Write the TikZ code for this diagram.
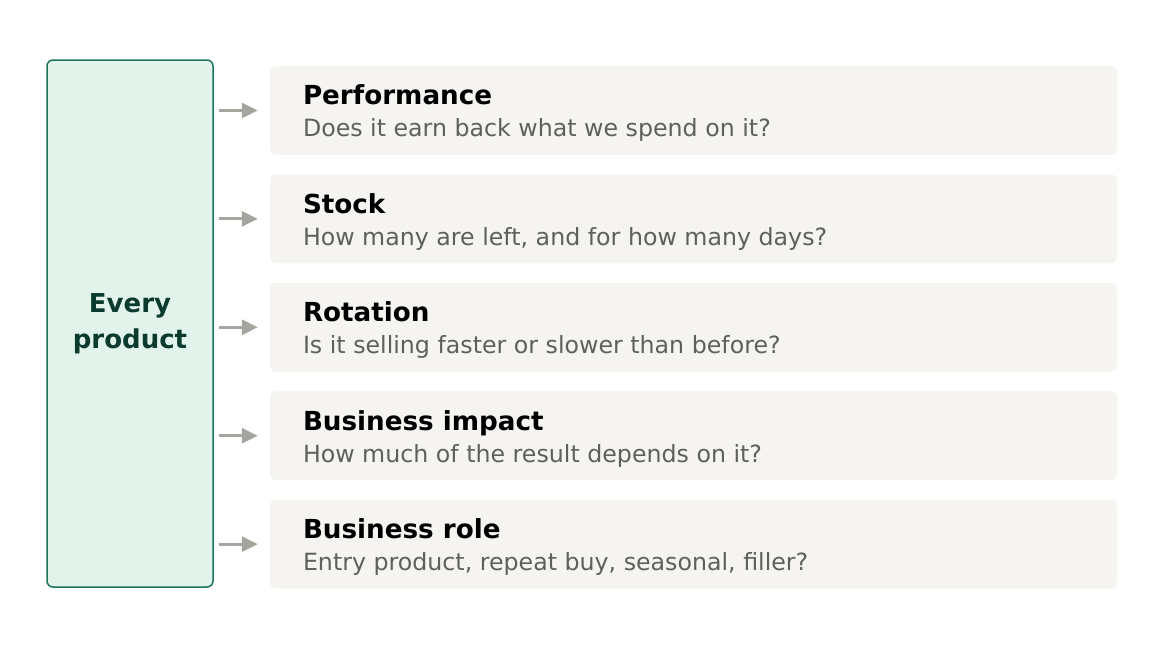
\documentclass[tikz,border=0pt]{standalone}
\usepackage{fontspec}
\setmainfont{DejaVu Sans}
\usetikzlibrary{positioning,arrows.meta}
\definecolor{boxfill}{HTML}{E2F3EC}
\definecolor{boxline}{HTML}{1C7556}
\definecolor{boxtext}{HTML}{0B3A2F}
\definecolor{cardfill}{HTML}{F5F4F0}
\definecolor{subgray}{HTML}{5F5F5F}
\definecolor{arrowgray}{HTML}{A5A5A0}

\begin{document}
\begin{tikzpicture}[x=1pt, y=-1pt,
    whole/.style={draw=boxline, fill=boxfill, line width=1.5pt, rounded corners=6pt,
      minimum width=166pt, minimum height=527pt, inner sep=0pt, align=center,
      text=boxtext, font=\bfseries\fontsize{26}{36}\selectfont},
    card/.style={fill=cardfill, rounded corners=6pt, minimum width=847pt,
      minimum height=89pt, inner sep=0pt},
    title/.style={anchor=base west, inner sep=0pt, font=\bfseries\fontsize{26.2}{30}\selectfont},
    question/.style={anchor=base west, inner sep=0pt, text=subgray, font=\fontsize{23.7}{28}\selectfont},
    link/.style={-{Triangle[length=16pt,width=15pt]}, draw=arrowgray, line width=3pt,
      shorten <=5pt, shorten >=12pt}]
    \useasboundingbox (0,0) rectangle (1164,648);
    \node[whole] (P) at (130,323.5) {Every\\product};
    \node[card] (C1) at (693.5,110.5) {};
    \node[card,below=19pt of C1] (C2) {};
    \node[card,below=19pt of C2] (C3) {};
    \node[card,below=19pt of C3] (C4) {};
    \node[card,below=19pt of C4] (C5) {};
    \node[title] (T1) at ([shift={(33,39)}]C1.north west) {Performance};
    \node[question] (Q1) at ([shift={(33,71)}]C1.north west) {Does it earn back what we spend on it?};
    \node[title] (T2) at ([shift={(33,39)}]C2.north west) {Stock};
    \node[question] (Q2) at ([shift={(33,71)}]C2.north west) {How many are left, and for how many days?};
    \node[title] (T3) at ([shift={(33,39)}]C3.north west) {Rotation};
    \node[question] (Q3) at ([shift={(33,71)}]C3.north west) {Is it selling faster or slower than before?};
    \node[title] (T4) at ([shift={(33,39)}]C4.north west) {Business impact};
    \node[question] (Q4) at ([shift={(33,71)}]C4.north west) {How much of the result depends on it?};
    \node[title] (T5) at ([shift={(33,39)}]C5.north west) {Business role};
    \node[question] (Q5) at ([shift={(33,71)}]C5.north west) {Entry product, repeat buy, seasonal, filler?};
    \draw[link] (P.east |- C1.west) -- (C1.west);
    \draw[link] (P.east |- C2.west) -- (C2.west);
    \draw[link] (P.east |- C3.west) -- (C3.west);
    \draw[link] (P.east |- C4.west) -- (C4.west);
    \draw[link] (P.east |- C5.west) -- (C5.west);
\end{tikzpicture}
\end{document}
